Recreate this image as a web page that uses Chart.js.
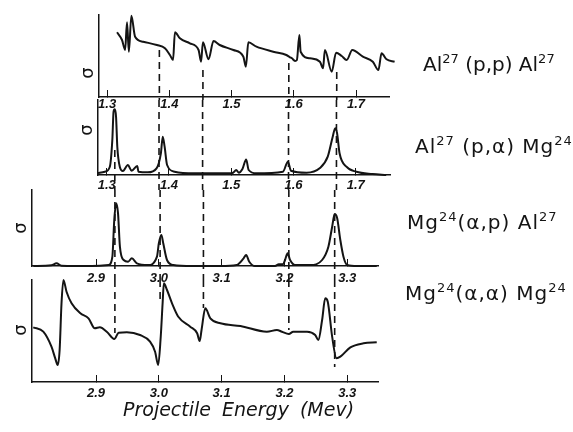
<!DOCTYPE html>
<html>
<head>
<meta charset="utf-8">
<script src="https://cdn.jsdelivr.net/npm/chart.js@4/dist/chart.umd.min.js"></script>
<style>
  body { margin: 0; background: #fff; }
  #wrap { position: relative; width: 573px; height: 432px; overflow: hidden; color: #141414; font-family: "DejaVu Sans", sans-serif; }
  #wrap canvas { position: absolute; left: 0; top: 0; }
  .sig { position: absolute; width: 20px; height: 20px; line-height: 20px; text-align: center; font: 18px "DejaVu Sans", sans-serif; transform: rotate(-90deg); }
  .rx { position: absolute; font-size: 20px; line-height: 22px; white-space: nowrap; }
  .rx.wide { letter-spacing: 1px; }
  .rx sup { font-size: 13px; vertical-align: 8px; line-height: 0; }
  #xt { position: absolute; left: 123px; top: 398px; font: italic 19px "DejaVu Sans", sans-serif; letter-spacing: 0px; word-spacing: 5px; white-space: nowrap; }
</style>
</head>
<body>
<div id="wrap">
  <canvas id="c1" width="573" height="432"></canvas>
  <canvas id="c2" width="573" height="432"></canvas>
  <canvas id="c3" width="573" height="432"></canvas>
  <canvas id="c4" width="573" height="432"></canvas>

  <div class="sig" style="left:76px;top:63px">σ</div>
  <div class="sig" style="left:75px;top:120px">σ</div>
  <div class="sig" style="left:9px;top:218px">σ</div>
  <div class="sig" style="left:9px;top:320px">σ</div>

  <div class="rx" style="left:423px;top:53px">Al<sup>27</sup> (p,p) Al<sup>27</sup></div>
  <div class="rx wide" style="left:415px;top:135px">Al<sup>27</sup> (p,α) Mg<sup>24</sup></div>
  <div class="rx wide" style="left:407px;top:211px">Mg<sup>24</sup>(α,p) Al<sup>27</sup></div>
  <div class="rx wide" style="left:405px;top:282px">Mg<sup>24</sup>(α,α) Mg<sup>24</sup></div>

  <div id="xt">Projectile Energy  (Mev)</div>
</div>

<script>
// Подписи делений по оси энергии (Мэв)
const protonTicks = [1.3, 1.4, 1.5, 1.6, 1.7];
const alphaTicks = [2.9, 3.0, 3.1, 3.2, 3.3];

// Al27(p,p)Al27
const ppE = [1.316, 1.324, 1.329, 1.332, 1.335, 1.339, 1.345, 1.358, 1.380, 1.393, 1.401, 1.406, 1.409, 1.417, 1.433, 1.447, 1.451, 1.454, 1.463, 1.471, 1.481, 1.503, 1.519, 1.523, 1.527, 1.540, 1.567, 1.588, 1.594, 1.597, 1.602, 1.605, 1.609, 1.611, 1.626, 1.642, 1.647, 1.650, 1.661, 1.668, 1.677, 1.685, 1.694, 1.711, 1.727, 1.736, 1.741, 1.749, 1.762];
const ppY = [64.7, 57, 47, 74.7, 45.3, 81.3, 60.3, 55.3, 52, 48.7, 42, 37, 64.7, 58.7, 53.7, 47, 35.3, 54.7, 37.7, 56, 52, 47, 40.3, 30.3, 54.7, 50.3, 45.3, 42, 39.7, 38.7, 36, 37, 62, 45.3, 38.7, 35.3, 28.7, 47, 25.3, 44.3, 41, 37, 47, 40.3, 35.3, 27, 43.7, 37.7, 35.3];

// Al27(p,a)Mg24
const paE = [1.286, 1.297, 1.305, 1.309, 1.311, 1.313, 1.315, 1.317, 1.321, 1.326, 1.334, 1.340, 1.349, 1.351, 1.366, 1.380, 1.387, 1.390, 1.393, 1.397, 1.409, 1.441, 1.495, 1.503, 1.508, 1.512, 1.518, 1.524, 1.528, 1.540, 1.583, 1.591, 1.596, 1.621, 1.642, 1.655, 1.663, 1.667, 1.670, 1.674, 1.685, 1.701, 1.727, 1.749];
const paY = [2, 3.3, 8.3, 35, 63.3, 65.7, 58.3, 28.3, 8.3, 4, 10, 4.3, 9, 3.3, 2.7, 6.7, 21.7, 38.3, 28.3, 10, 3.3, 1.7, 1.7, 2.3, 5, 2.3, 6, 15.5, 5, 1.7, 3.3, 13.3, 4.3, 2.3, 6.7, 18.3, 38.3, 46.7, 41.7, 21.7, 8.3, 3.3, 1, 0];

// Mg24(a,p)Al27
const apE = [2.800, 2.829, 2.837, 2.845, 2.893, 2.920, 2.926, 2.929, 2.932, 2.935, 2.938, 2.944, 2.951, 2.957, 2.965, 2.983, 2.997, 3.000, 3.004, 3.007, 3.013, 3.023, 3.053, 3.098, 3.124, 3.135, 3.139, 3.144, 3.153, 3.185, 3.191, 3.198, 3.201, 3.205, 3.209, 3.217, 3.241, 3.260, 3.270, 3.276, 3.280, 3.284, 3.289, 3.294, 3.300, 3.316, 3.347];
const apY = [0, 0.7, 2.7, 0.3, 0, 1, 9.3, 46, 62.7, 52.7, 19.3, 6, 4.3, 7.7, 2.7, 1, 9.3, 22.7, 31, 22.7, 6, 1, 0, 0, 1, 7.7, 11, 4.3, 0, 0, 1.7, 2, 6, 12.7, 6, 1, 1, 6, 19.3, 39.3, 52, 47.7, 26, 9.3, 1, 0, 0];

// Mg24(a,a)Mg24
const aaE = [2.800, 2.816, 2.829, 2.835, 2.839, 2.842, 2.845, 2.848, 2.853, 2.861, 2.875, 2.888, 2.898, 2.906, 2.917, 2.929, 2.936, 2.949, 2.970, 2.986, 2.994, 2.999, 3.003, 3.006, 3.008, 3.013, 3.021, 3.031, 3.050, 3.061, 3.065, 3.068, 3.074, 3.082, 3.098, 3.130, 3.172, 3.188, 3.196, 3.207, 3.214, 3.236, 3.249, 3.254, 3.260, 3.265, 3.269, 3.276, 3.283, 3.289, 3.305, 3.326, 3.347];
const aaY = [54.7, 50.3, 35.3, 23.7, 17, 32, 78.7, 102, 90.3, 78.7, 68.7, 63.7, 53.7, 54.7, 50.3, 43, 49.3, 49.7, 47, 40.3, 30.3, 17, 45.3, 78.7, 98.7, 92, 78.7, 65.3, 55.3, 48.7, 41, 52, 73.7, 63.7, 58.7, 56, 50.3, 52, 50.3, 48, 50.3, 50.3, 47, 42, 62, 83.7, 80.3, 45.3, 23.7, 25.3, 34.7, 38.7, 39.7];

// Пунктирные линии соответствия уровней (энергии протонов и альфа-частиц)
const dashProton = [1.313, 1.384, 1.454, 1.592, 1.669];
const dashAlpha = [2.930, 3.002, 3.071, 3.207, 3.280];
const dashStart1 = [null, 47, 27, 34, 25];   // где линии начинаются в верхней панели
const dashStart2 = [25, 75, 75, 75, 75];
const dashEnd4 = [49, 82, 74, 52, 15];       // где кончаются в нижней панели

// Панели: положение области графика на странице
const panels = [
  { id: "c1", e: ppE, y: ppY, xMin: 1.287, xMax: 1.753, yMax: 82, ticks: protonTicks, box: [99, 389, 15, 97], pad: 7,
    dx: dashProton, from: dashStart1, to: [-3, -3, -3, -3, -3] },
  { id: "c2", e: paE, y: paY, xMin: 1.286, xMax: 1.755, yMax: 75, ticks: protonTicks, box: [98, 390, 100, 175], pad: 10,
    dx: dashProton, from: dashStart2, to: [-15, -15, -15, -15, -15] },
  { id: "c3", e: apE, y: apY, xMin: 2.798, xMax: 3.349, yMax: 76, ticks: alphaTicks, box: [32, 378, 190, 266], pad: 12,
    dx: dashAlpha, from: [76, 76, 76, 76, 76], to: [-14, -14, -14, -14, -14] },
  { id: "c4", e: aaE, y: aaY, xMin: 2.798, xMax: 3.349, yMax: 102, ticks: alphaTicks, box: [32, 378, 280, 382], pad: 11,
    dx: dashAlpha, from: [102, 102, 102, 102, 102], to: dashEnd4 }
];

const ink = "#141414";
const axisH = 20;

function makePanel(p) {
  const curve = p.e.map((x, i) => ({ x: x, y: p.y[i] }));
  const dashes = [];
  p.dx.forEach((x, i) => {
    if (p.from[i] === null) return;
    dashes.push({
      data: [{ x: x, y: p.from[i] }, { x: x, y: p.to[i] }],
      showLine: true, borderColor: ink, borderWidth: 1.6, borderDash: [7, 5],
      pointRadius: 0, tension: 0, clip: false
    });
  });

  return new Chart(document.getElementById(p.id), {
    type: "scatter",
    data: {
      datasets: [{
        data: curve, showLine: true, borderColor: ink, borderWidth: 2,
        pointRadius: 0, cubicInterpolationMode: "monotone", clip: false
      }].concat(dashes)
    },
    options: {
      responsive: false,
      animation: false,
      events: [],
      layout: { padding: { left: p.box[0], right: 573 - p.box[1], top: p.box[2], bottom: 432 - p.box[3] - axisH } },
      plugins: { legend: { display: false }, tooltip: { enabled: false } },
      scales: {
        x: {
          type: "linear", min: p.xMin, max: p.xMax,
          afterFit: (s) => { s.height = axisH; },
          afterBuildTicks: (s) => { s.ticks = p.ticks.map((v) => ({ value: v })); },
          grid: { drawOnChartArea: false, drawTicks: true, tickLength: -7, color: ink, lineWidth: 1 },
          border: { display: true, color: ink, width: 1.5 },
          ticks: {
            padding: p.pad, color: ink, maxRotation: 0, autoSkip: false,
            font: { family: "Liberation Sans", style: "italic", weight: "bold", size: 13 },
            callback: (v) => Number(v).toFixed(1)
          }
        },
        y: {
          type: "linear", min: 0, max: p.yMax,
          afterFit: (s) => { s.width = 0; },
          grid: { drawOnChartArea: false, drawTicks: false },
          border: { display: true, color: ink, width: 1.5 },
          ticks: { display: false }
        }
      }
    }
  });
}

panels.forEach(makePanel);
</script>
</body>
</html>
